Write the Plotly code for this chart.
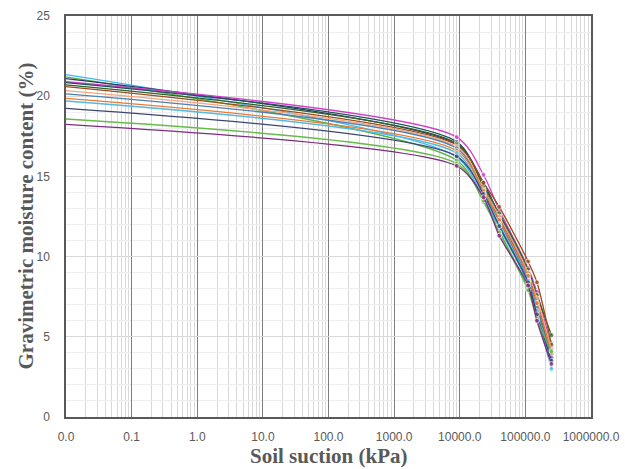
import plotly.graph_objects as go

suction = [0.01, 9000, 23000, 40000, 110000, 150000, 250000]

series_names = ["S1", "S2", "S3", "S4", "S5", "S6", "S7", "S8", "S9", "S10", "S11", "S12", "S13", "S14"]
series_colors = ["#3DB8EE", "#5DB04A", "#263A66", "#D23FCB", "#1E4F5C", "#2F5E2A",
                 "#9B4A1A", "#F2A57E", "#4F7FAE", "#EA7A33", "#4FB9E8", "#3A4670",
                 "#66BB4A", "#7D2C7E"]
series_values = [
    [21.35, 16.20, 13.6, 11.8, 8.3, 6.3, 3.0],
    [21.20, 16.00, 13.4, 11.6, 8.0, 6.5, 4.6],
    [21.10, 17.00, 14.6, 12.6, 9.0, 7.3, 3.9],
    [20.90, 17.45, 15.1, 12.9, 9.3, 7.8, 4.3],
    [20.85, 17.15, 14.3, 12.4, 8.8, 7.0, 3.6],
    [20.70, 17.05, 14.4, 12.7, 9.2, 7.6, 5.1],
    [20.60, 16.95, 14.6, 13.1, 9.7, 8.4, 4.5],
    [20.35, 16.85, 14.2, 12.5, 9.0, 7.4, 4.2],
    [20.15, 16.75, 14.0, 12.2, 8.6, 6.8, 3.7],
    [19.86, 16.60, 14.1, 12.3, 8.8, 7.1, 4.0],
    [19.70, 16.45, 13.8, 12.0, 8.5, 6.6, 3.4],
    [19.24, 16.25, 13.9, 11.9, 8.4, 6.4, 3.5],
    [18.58, 15.80, 13.5, 11.5, 7.9, 6.1, 4.1],
    [18.24, 15.65, 13.7, 11.3, 8.2, 6.0, 3.3],
]

fig = go.Figure()
for name, color, vals in zip(series_names, series_colors, series_values):
    fig.add_trace(go.Scatter(
        x=suction, y=vals, name=name, mode="lines+markers",
        line=dict(color=color, width=1.3, shape="spline", smoothing=0.75),
        marker=dict(color=color, size=[0] + [5] * (len(suction) - 1)),
        showlegend=False,
    ))

tick_font = dict(family="Liberation Sans, Arial, sans-serif", size=12, color="#595959")
title_font = dict(family="Liberation Serif, Times New Roman, serif", size=21, color="#595959")

fig.update_layout(
    width=625, height=469,
    margin=dict(l=66, r=34, t=16, b=52),
    paper_bgcolor="white", plot_bgcolor="white",
    xaxis=dict(
        type="log", range=[-2, 6], dtick=1, tickformat=".1f",
        showgrid=True, gridcolor="#7F7F7F", gridwidth=1.2,
        minor=dict(showgrid=True, gridcolor="#D9D9D9", gridwidth=1, dtick="D1"),
        showline=True, linecolor="#595959", linewidth=1.5, mirror=True,
        tickfont=tick_font, ticks="", zeroline=False, automargin=False,
        ticklabelstandoff=8,
    ),
    yaxis=dict(
        range=[0, 25], dtick=5,
        showgrid=True, gridcolor="#D9D9D9", gridwidth=1,
        minor=dict(showgrid=True, gridcolor="#EEEEEE", gridwidth=1, dtick=1),
        showline=True, linecolor="#595959", linewidth=1.5, mirror=True,
        tickfont=tick_font, ticks="", zeroline=False, ticklabelstandoff=12,
        automargin=False,
    ),
    annotations=[
        dict(text="<b>Soil suction (kPa)</b>", font=title_font, showarrow=False,
             xref="paper", yref="paper", x=0.5, y=0, xanchor="center", yanchor="middle",
             yshift=-39),
        dict(text="<b>Gravimetric moisture content (%)</b>", font=title_font, showarrow=False,
             xref="paper", yref="paper", x=0, y=0.5, xanchor="center", yanchor="middle",
             xshift=-41, textangle=-90),
    ],
)

fig.write_html(
    "out.html",
    config={"displayModeBar": False},
    post_script="document.body.style.margin='0';document.body.style.overflow='hidden';",
)
